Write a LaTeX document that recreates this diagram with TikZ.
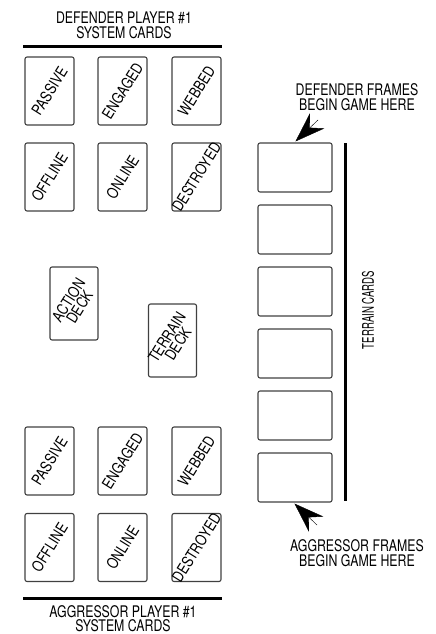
\documentclass[tikz,border=0pt]{standalone}
\usepackage{fontspec}
\setmainfont{TeX Gyre Heros}
\newfontfamily\headfont[FakeStretch=0.77]{TeX Gyre Heros}
\newfontfamily\cardfont[FakeStretch=0.82]{TeX Gyre Heros}
\newfontfamily\slimfont[FakeStretch=0.6]{TeX Gyre Heros}
\usetikzlibrary{arrows.meta}
\begin{document}
\begin{tikzpicture}[x=1pt,y=-1pt,
  card/.style={draw=black!75, line width=1.1pt, rounded corners=2pt, minimum width=49pt, minimum height=68pt, inner sep=0pt},
  deck/.style={card, minimum width=48pt, minimum height=73pt},
  tcard/.style={card, minimum width=74pt, minimum height=49pt},
  cardtext/.style={font=\cardfont\fontsize{15.5}{13}\selectfont, rotate=58, inner sep=0pt, align=center},
  head/.style={font=\headfont\fontsize{16}{16}\selectfont, anchor=base, inner sep=0pt},
  slim/.style={font=\slimfont\fontsize{16}{16}\selectfont, inner sep=0pt},
  rule/.style={line width=3pt},
  framearrow/.style={-{Stealth[length=30pt,width=21pt,inset=10pt]}, line width=0.4pt}
]
\useasboundingbox (0,0) rectangle (436,634);

% headings
\node[head] (dh1) at (124,24) {DEFENDER PLAYER \#1};
\node[head] (dh2) at (124,39) {SYSTEM CARDS};
\coordinate (dr1) at (23,47); \coordinate (dr2) at (222,47);
\draw[rule] (dr1) -- (dr2);

\node[head] (ah1) at (123,617) {AGGRESSOR PLAYER \#1};
\node[head] (ah2) at (123,631) {SYSTEM CARDS};
\coordinate (ar1) at (23,598); \coordinate (ar2) at (222,598);
\draw[rule] (ar1) -- (ar2);

% defender system cards
\node[card] (d1) at (49.5,91) {};  \node[cardtext] (d1t) at (d1) {PASSIVE};
\node[card] (d2) at (122.5,91) {}; \node[cardtext] (d2t) at (d2) {ENGAGED};
\node[card] (d3) at (196.5,91) {}; \node[cardtext] (d3t) at (d3) {WEBBED};
\node[card] (d4) at (49.5,177) {};  \node[cardtext] (d4t) at (d4) {OFFLINE};
\node[card] (d5) at (122.5,177) {}; \node[cardtext] (d5t) at (d5) {ONLINE};
\node[card] (d6) at (196.5,177) {}; \node[cardtext] (d6t) at (d6) {DESTROYED};

% decks
\node[deck] (ad) at (74,303.5) {};   \node[cardtext] (adt) at (ad) {ACTION\\DECK};
\node[deck] (td) at (172.5,340.5) {}; \node[cardtext] (tdt) at (td) {TERRAIN\\DECK};

% aggressor system cards
\node[card] (a1) at (49.5,461) {};  \node[cardtext] (a1t) at (a1) {PASSIVE};
\node[card] (a2) at (122.5,461) {}; \node[cardtext] (a2t) at (a2) {ENGAGED};
\node[card] (a3) at (196.5,461) {}; \node[cardtext] (a3t) at (a3) {WEBBED};
\node[card] (a4) at (49.5,547.5) {};  \node[cardtext] (a4t) at (a4) {OFFLINE};
\node[card] (a5) at (122.5,547.5) {}; \node[cardtext] (a5t) at (a5) {ONLINE};
\node[card] (a6) at (196.5,547.5) {}; \node[cardtext] (a6t) at (a6) {DESTROYED};

% terrain cards
\foreach \i in {1,...,6} {
  \node[tcard] (t\i) at (295,{167.5+62*(\i-1)}) {};
}
\coordinate (vt) at (345,143); \coordinate (vb) at (345,501);
\draw[rule] (vt) -- (vb);
\node[slim, rotate=90] (tc) at (368,310) {TERRAIN CARDS};

% frames
\node[head] (df1) at (357,95) {DEFENDER FRAMES};
\node[head] (df2) at (357,110) {BEGIN GAME HERE};
\coordinate (dtail) at (318,120);
\draw[framearrow] (dtail) -- ([xshift=38pt,yshift=1pt]t1.north west);

\node[head] (af1) at (357,551) {AGGRESSOR FRAMES};
\node[head] (af2) at (357,566) {BEGIN GAME HERE};
\coordinate (atail) at (317,525);
\draw[framearrow] (atail) -- ([xshift=37pt,yshift=-1pt]t6.south west);
\end{tikzpicture}
\end{document}
